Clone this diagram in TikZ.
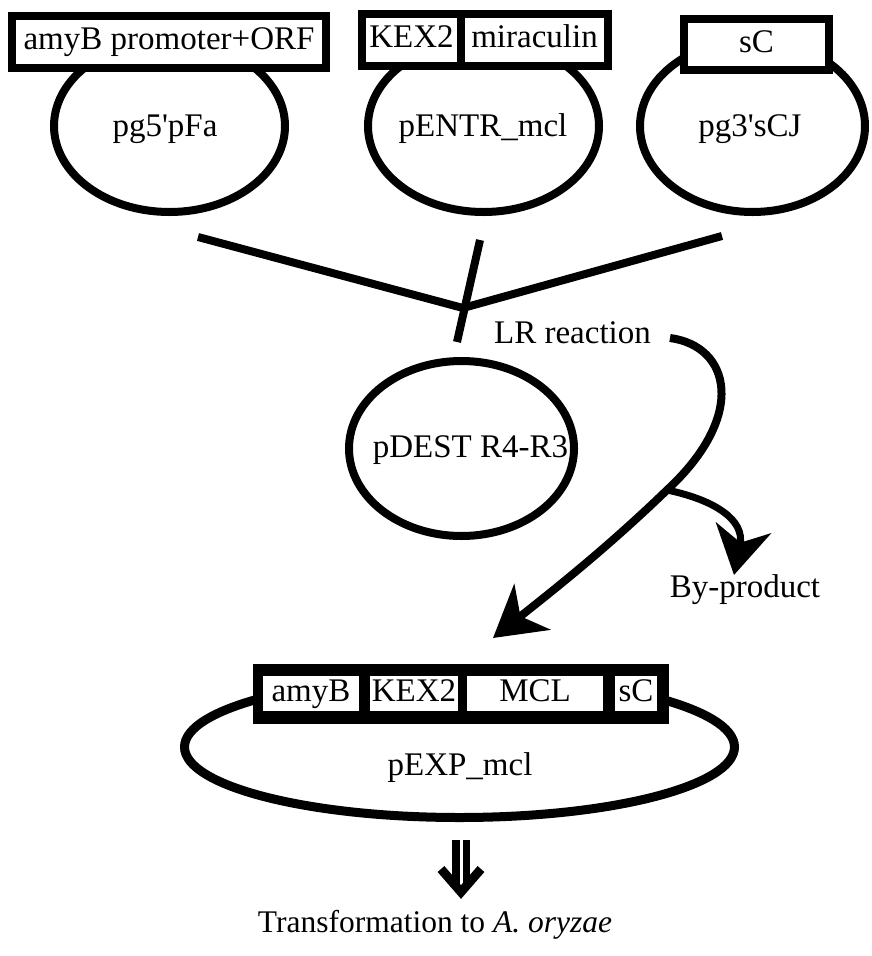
\documentclass[tikz,border=0pt]{standalone}
\usepackage{fontspec}
\setmainfont{Liberation Serif}
\usetikzlibrary{shapes.geometric,arrows.meta}
\newcommand\lbl{\fontsize{33pt}{36pt}\selectfont}
\begin{document}
\begin{tikzpicture}[x=1pt,y=-1pt,
  plasmid/.style={ellipse, draw, line width=8pt, inner sep=0pt, outer sep=0pt},
  blackbar/.style={fill=black, inner sep=0pt, outer sep=0pt},
  seg/.style={fill=white, inner sep=0pt, outer sep=0pt, font=\lbl, text height=22pt, text depth=7pt},
  txt/.style={inner sep=0pt, outer sep=0pt, font=\lbl, text height=22pt, text depth=7pt},
  conn/.style={line width=8pt},
  bigtip/.style={-{Stealth[length=50pt,width=58pt,inset=15pt]}},
]
\useasboundingbox (0,0) rectangle (871,956);

% top plasmids
\node[plasmid, minimum width=231pt, minimum height=172pt] (e1) at (169.5,126) {};
\node[plasmid, minimum width=231pt, minimum height=172pt] (e2) at (483.5,126) {};
\node[plasmid, minimum width=225pt, minimum height=172pt] (e3) at (752.5,126) {};
\node[txt] (t1) at (165,129) {pg5\textquotesingle pFa};
\node[txt] (t2) at (483,129) {pENTR\_mcl};
\node[txt] (t3) at (750,129) {pg3\textquotesingle sCJ};

% top boxes
\node[blackbar, minimum width=322pt, minimum height=60pt] (b1) at (169,42) {};
\node[seg, minimum width=306pt, minimum height=44pt] (s1) at (169,42) {amyB promoter+ORF};
\node[blackbar, minimum width=254pt, minimum height=60pt] (b2) at (485,40) {};
\node[seg, minimum width=91pt, minimum height=44pt] (s2a) at (411.5,40) {KEX2};
\node[seg, minimum width=139pt, minimum height=44pt] (s2b) at (534.5,40) {miraculin};
\node[blackbar, minimum width=153pt, minimum height=59pt] (b3) at (756.5,44.5) {};
\node[seg, minimum width=137pt, minimum height=43pt] (s3) at (756.5,44.5) {sC};

% LR joining lines
\coordinate (yl) at (198,237);
\coordinate (yj) at (463,308);
\coordinate (yr) at (722,236);
\coordinate (tk1) at (480,240);
\coordinate (tk2) at (457,342);
\draw[conn, line join=miter] (yl) -- (yj) -- (yr);
\draw[conn] (tk1) -- (tk2);

\node[txt] (lr) at (572.5,336) {LR reaction};

% destination vector
\node[plasmid, minimum width=225pt, minimum height=175pt] (dest) at (461.5,448.5) {};
\node[txt] (tdest) at (470.5,450) {pDEST R4-R3};

% arrows
\coordinate (lrs) at (670,338);
\coordinate (br) at (667,490);
\coordinate (tipM) at (493,638);
\coordinate (tipB) at (734,575);
\draw[conn, bigtip] (lrs) .. controls (730,346) and (748,415) .. (br)
   .. controls (610,545) and (560,585) .. (tipM);
\draw[line width=7pt, -{Stealth[length=48pt,width=56pt,inset=15pt]}] (br) .. controls (715,500) and (745,520) .. (tipB);
\node[txt] (byp) at (745,590) {By-product};

% expression vector
\node[plasmid, line width=9pt, minimum width=550pt, minimum height=141pt] (exp) at (459.5,747) {};
\node[txt] (texp) at (460,768) {pEXP\_mcl};
\node[blackbar, minimum width=416pt, minimum height=60pt] (bx) at (461,694) {};
\node[seg, minimum width=96pt, minimum height=35pt] (x1) at (311,693.5) {amyB};
\node[seg, minimum width=88pt, minimum height=35pt] (x2) at (414,693.5) {KEX2};
\node[seg, minimum width=136pt, minimum height=35pt] (x3) at (535,693.5) {MCL};
\node[seg, minimum width=42pt, minimum height=35pt] (x4) at (636,693.5) {sC};

% double arrow
\fill (452,840) rectangle (459.5,888);
\fill (462.5,840) rectangle (470,888);
\draw[line width=9pt, line join=miter] (441,869) -- (461,892) -- (481,869);

\node[inner sep=0pt, font=\fontsize{31.5pt}{34pt}\selectfont] (tr) at (435,925) {Transformation to \textit{A. oryzae}};
\end{tikzpicture}
\end{document}
